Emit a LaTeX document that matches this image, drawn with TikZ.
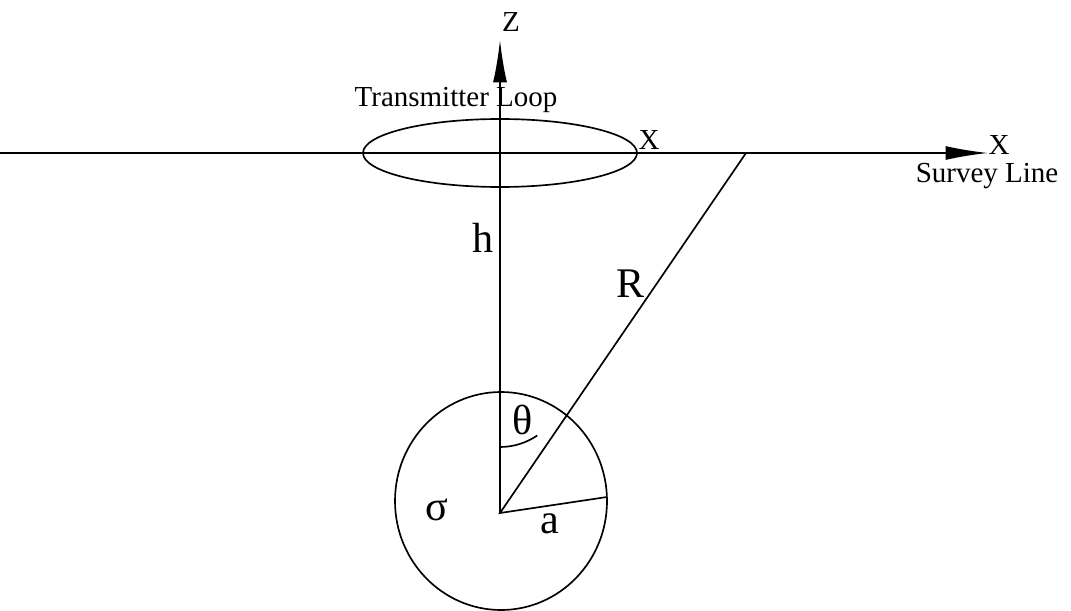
\documentclass[tikz,border=0pt]{standalone}
\usepackage{fontspec}
\setmainfont{Liberation Serif}
\usetikzlibrary{arrows.meta,positioning,calc}

\begin{document}
\begin{tikzpicture}[
    x=0.02cm, y=-0.02cm,
    line width=0.95pt,
    small/.style={font=\fontsize{16.5}{19}\selectfont, inner sep=0pt, anchor=base},
    big/.style={font=\fontsize{24}{28}\selectfont, inner sep=0pt, anchor=base},
    arrow/.style={-{Latex[length=0.85cm, width=0.28cm]}}
]
    \useasboundingbox (0,0) rectangle (1071,611);

    \coordinate (lstart) at (0,153);
    \coordinate (xtip) at (988,153);
    \coordinate (loop) at (500,153);
    \coordinate (ztip) at (500,40);
    \coordinate (rx) at (746,153);
    \coordinate (ctr) at (500,513);
    \coordinate (sph) at (501,501);
    \coordinate (rim) at (607,497);

    \draw[arrow] (lstart) -- (xtip);
    \draw[arrow] (ctr) -- (ztip);
    \draw (loop) ellipse (137 and 34);
    \draw (sph) ellipse (106 and 109);
    \draw (rx) -- (ctr) -- (rim);
    \draw ($(ctr)+(0,-66)$) arc[start angle=90, end angle=55.65, radius=66];

    \node[small] (zlab) at (511,32) {Z};
    \node[small] (loopname) at (456,107) {Transmitter Loop};
    \node[small] (xpos) at (649,150) {X};
    \node[small] (xlab) at (999,155) {X};
    \node[small] (survey) at (987,183) {Survey Line};
    \node[big] (hlab) at (483,253) {h};
    \node[big] (rlab) at (631,297) {R};
    \node[big] (thlab) at (523,434) {θ};
    \node[big] (sglab) at (437,520) {σ};
    \node[big] (alab) at (550,533) {a};
\end{tikzpicture}
\end{document}
